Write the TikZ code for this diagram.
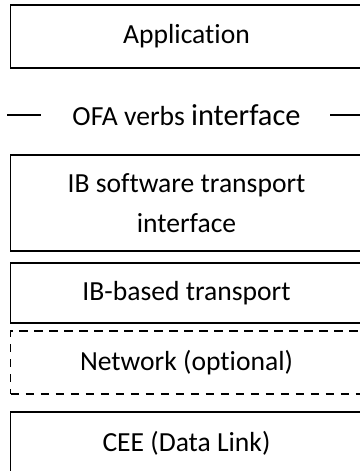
\documentclass[tikz,border=0pt]{standalone}
\usepackage{fontspec}
\setmainfont[Ligatures=NoCommon]{Carlito}
\usepackage{tikz}
\usetikzlibrary{positioning}

\begin{document}
\begin{tikzpicture}[x=0.5pt, y=-0.5pt, thick,
  layer/.style = {draw, line width=0.9pt, minimum width=176pt, inner sep=0pt, align=center,
                  font=\fontsize{13.8}{20}\selectfont},
  optlayer/.style = {layer, dash pattern=on 4.2pt off 3.3pt},
  bar/.style = {line width=0.9pt}]
  \useasboundingbox (0,0) rectangle (359,471);
  \node[layer, minimum height=31.5pt] (app) at (186.5,36.5) {Application};
  \node[font=\fontsize{13.8}{20}\selectfont] (ofa) at (186.5,115) {OFA verbs {\fontsize{15.2}{20}\selectfont interface}};
  \node[layer, minimum height=48pt] (ibsw) at (186.5,203) {IB software transport\\interface};
  \node[layer, minimum height=30pt] (ibtrans) at (186.5,293) {IB-based transport};
  \node[optlayer, minimum height=31.5pt] (net) at (186.5,362.5) {Network (optional)};
  \node[layer, minimum height=31pt] (cee) at (186.5,443) {CEE (Data Link)};
  \coordinate (l1) at (7,115);
  \coordinate (l2) at (41,115);
  \coordinate (r1) at (330,115);
  \coordinate (r2) at (365,115);
  \draw[bar] (l1) -- (l2);
  \draw[bar] (r1) -- (r2);
\end{tikzpicture}
\end{document}
